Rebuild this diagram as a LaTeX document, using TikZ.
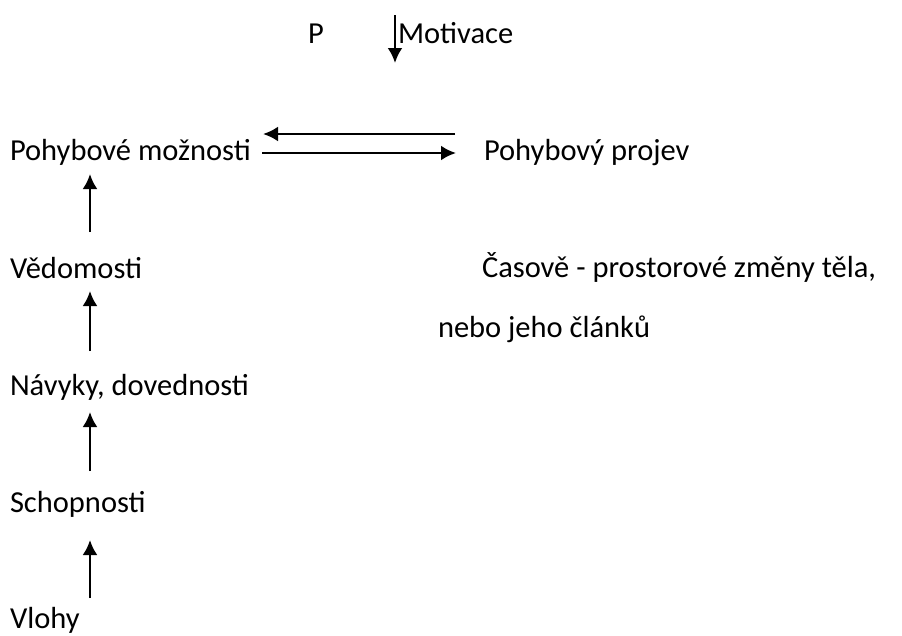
\documentclass[tikz,border=0pt]{standalone}
\usepackage{fontspec}
\setmainfont{Carlito}
\usetikzlibrary{arrows.meta}
\tikzset{%
    >={Latex[length=15pt,width=15pt]}, % arrow heads as in the scheme
    every node/.style={inner sep=0pt,outer sep=0pt,anchor=base west,
        font=\fontsize{30.5}{36}\selectfont},%
    link/.style={->,line width=2.7pt}%
}
\begin{document}
\begin{tikzpicture}[x=1pt,y=-1pt]
    \useasboundingbox (0,0) rectangle (902,635);

    % top line
    \node (P) at (308,43) {P};
    \node (motivace) at (398,43) {Motivace};
    \coordinate (mtop) at (395,15);
    \coordinate (mbot) at (395,63);
    \draw[link] (mtop) -- (mbot);

    % left column
    \node (moznosti) at (10,160) {Pohybové možnosti};
    \node (vedomosti) at (10,278) {Vědomosti};
    \node (navyky) at (10,395) {Návyky, dovednosti};
    \node (schopnosti) at (10,512) {Schopnosti};
    \node (vlohy) at (10,628) {Vlohy};

    % right column
    \node (projev) at (484,160) {Pohybový projev};
    \node (zmeny) at (482,277) {Časově - prostorové změny těla,};
    \node (clanky) at (438,337) {nebo jeho článků};

    % vertical arrows
    \foreach \a/\b in {232/174,351/291,471/412,598/540}{
        \draw[link] (90,\a) -- (90,\b);
    }

    % the two horizontal arrows
    \coordinate (lA) at (263,134);
    \coordinate (rA) at (455,134);
    \coordinate (lB) at (262,153);
    \coordinate (rB) at (456,153);
    \draw[link] (rA) -- (lA);
    \draw[link] (lB) -- (rB);

\end{tikzpicture}
\end{document}
